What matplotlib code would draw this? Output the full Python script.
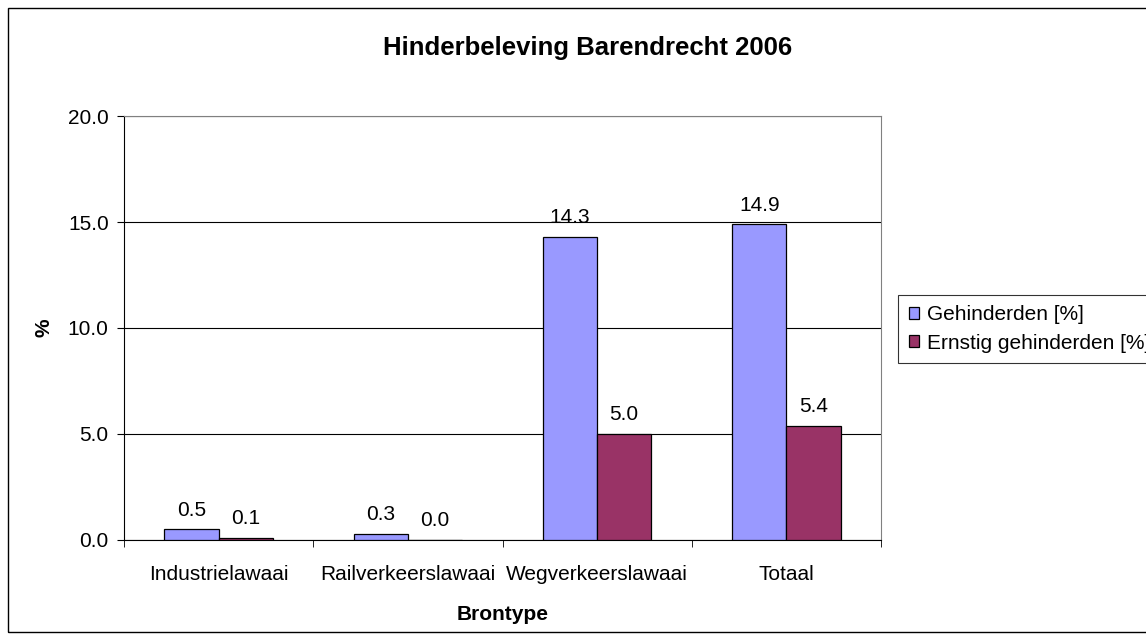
import matplotlib.pyplot as plt
import matplotlib.patches as mpatches
import numpy as np

plt.rcParams['font.family'] = ['Liberation Sans', 'DejaVu Sans']

categories = ['Industrielawaai', 'Railverkeerslawaai', 'Wegverkeerslawaai', 'Totaal']
gehinderden = [0.5, 0.3, 14.3, 14.9]
ernstig = [0.1, 0.0, 5.0, 5.4]
series_names = ['Gehinderden [%]', 'Ernstig gehinderden [%]']
colors = ['#9999FF', '#993366']

fig = plt.figure(figsize=(11.46, 6.42), dpi=100)
fig.patches.append(mpatches.Rectangle((8 / 1146, 10 / 642), 1.2, 624 / 642,
                                      transform=fig.transFigure, fill=False,
                                      edgecolor='black', linewidth=1.0))
ax = fig.add_axes([0.1082, 0.1589, 0.6606, 0.6604])

x = np.arange(len(categories))
w = 0.286
b1 = ax.bar(x - w / 2, gehinderden, w, color=colors[0], edgecolor='black', linewidth=0.9,
            label=series_names[0], zorder=3)
b2 = ax.bar(x + w / 2, ernstig, w, color=colors[1], edgecolor='black', linewidth=0.9,
            label=series_names[1], zorder=3)

for bars, vals in ((b1, gehinderden), (b2, ernstig)):
    for rect, v in zip(bars, vals):
        ax.text(rect.get_x() + rect.get_width() / 2, v + 0.45, f'{v:.1f}',
                ha='center', va='bottom', fontsize=15)

ax.set_xlim(-0.5, len(categories) - 0.5)
ax.set_ylim(0, 20)
ax.set_yticks([0, 5, 10, 15, 20])
ax.set_yticklabels([f'{v:.1f}' for v in [0, 5, 10, 15, 20]], fontsize=15)
ax.set_xticks(x)
ax.set_xticklabels(categories, fontsize=15)
ax.set_xticks(np.arange(-0.5, len(categories)), minor=True)
ax.tick_params(axis='x', which='major', length=0, pad=18)
ax.tick_params(axis='x', which='minor', length=5, direction='out', color='black')
ax.tick_params(axis='y', length=5, direction='out', pad=6)

ax.yaxis.grid(True, color='black', linewidth=0.8, zorder=0)
for s in ['top', 'right']:
    ax.spines[s].set_color('#808080')
for s in ['left', 'bottom']:
    ax.spines[s].set_color('black')

fig.text(588 / 1146, 1 - 48 / 642, 'Hinderbeleving Barendrecht 2006', fontsize=18.5,
         fontweight='bold', ha='center', va='center')
ax.set_xlabel('Brontype', fontsize=15, fontweight='bold', labelpad=15)
ax.set_ylabel('%', fontsize=15, fontweight='bold', labelpad=10)

leg = ax.legend(loc='upper left', bbox_to_anchor=(1.023, 0.578), fontsize=15,
                frameon=True, fancybox=False, edgecolor='black', handlelength=0.5,
                handleheight=0.5, handletextpad=0.35, borderpad=0.5, labelspacing=0.45,
                borderaxespad=0)
leg.get_frame().set_linewidth(0.8)

fig.savefig('out.png', dpi=100)
